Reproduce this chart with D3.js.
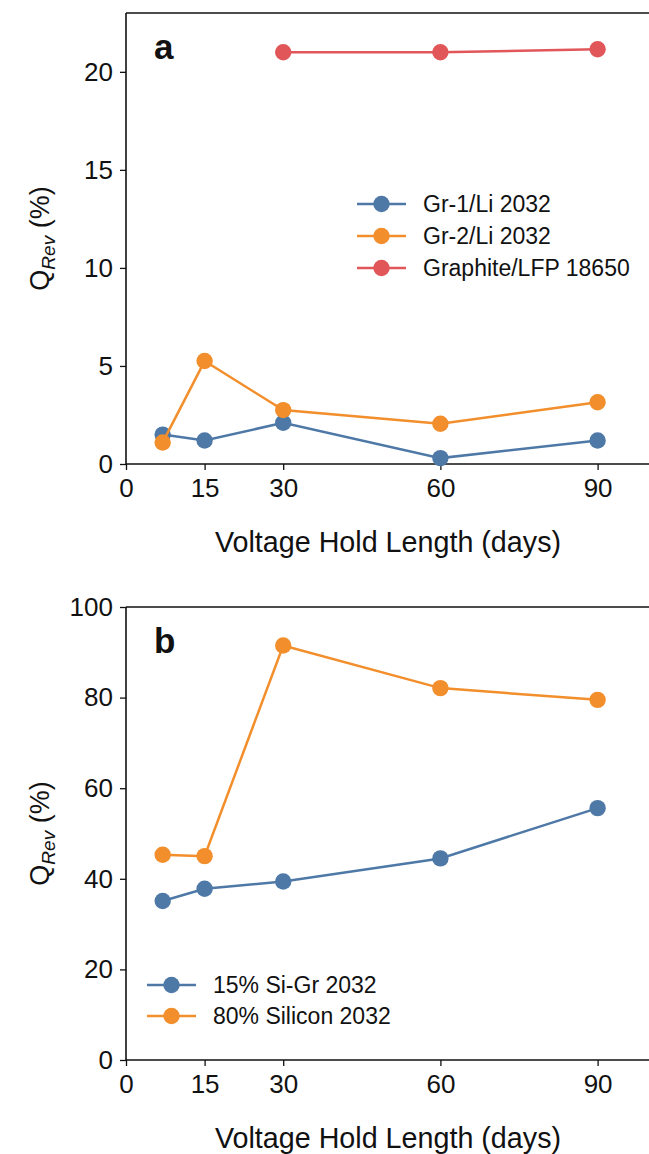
<!DOCTYPE html>
<html><head><meta charset="utf-8">
<script src="https://cdn.jsdelivr.net/npm/d3@7"></script>
<style>
html,body{margin:0;padding:0;background:#fff;}
text{font-family:"Liberation Sans",Arial,sans-serif;fill:#111;}
</style></head>
<body>
<svg id="chart" width="649" height="1154"></svg>
<script>
// ---- data ----
const xTicks = [0, 15, 30, 60, 90];
const daysA = [7, 15, 30, 60, 90];
const gr1Li = [1.5, 1.2, 2.1, 0.3, 1.2];
const gr2Li = [1.1, 5.25, 2.75, 2.05, 3.15];
const daysLFP = [30, 60, 90];
const grLFP = [21.0, 21.0, 21.15];
const yTicksA = [0, 5, 10, 15, 20];

const daysB = [7, 15, 30, 60, 90];
const siGr15 = [35.1, 37.8, 39.4, 44.5, 55.6];
const si80 = [45.3, 45.0, 91.5, 82.1, 79.5];
const yTicksB = [0, 20, 40, 60, 80, 100];

const namesA = ["Gr-1/Li 2032", "Gr-2/Li 2032", "Graphite/LFP 18650"];
const namesB = ["15% Si-Gr 2032", "80% Silicon 2032"];
const colors = ["#4e79a7", "#f28e2b", "#e15759"];

const svg = d3.select("#chart");

function panel(opts) {
  const {top, bottom, yMax, yTicks, series, letter, legend} = opts;
  const x = d3.scaleLinear().domain([0, 100]).range([126, 650]);
  const y = d3.scaleLinear().domain([0, yMax]).range([bottom, top]);
  const g = svg.append("g");

  g.append("line").attr("x1", 126).attr("x2", 650).attr("y1", top).attr("y2", top)
    .attr("stroke", "#111").attr("stroke-width", 1.3);
  g.append("line").attr("x1", 650).attr("x2", 650).attr("y1", top).attr("y2", bottom)
    .attr("stroke", "#111").attr("stroke-width", 1.3);

  const xa = g.append("g").attr("transform", `translate(0,${bottom})`)
    .call(d3.axisBottom(x).tickValues(xTicks).tickSize(6).tickPadding(9).tickFormat(d3.format("d")));
  const ya = g.append("g").attr("transform", `translate(126,0)`)
    .call(d3.axisLeft(y).tickValues(yTicks).tickSize(6).tickPadding(7).tickFormat(d3.format("d")));
  [xa, ya].forEach(a => {
    a.select(".domain").attr("stroke", "#111").attr("stroke-width", 1.6);
    a.selectAll(".tick line").attr("stroke", "#111").attr("stroke-width", 1.3);
    a.selectAll("text").style("font-family", '"Liberation Sans",Arial,sans-serif')
      .style("font-size", "26px").attr("fill", "#111");
  });
  xa.select(".domain").attr("d", `M126,0H650`);
  ya.select(".domain").attr("d", `M0,${top}V${bottom}`);

  const line = d3.line().x(d => x(d[0])).y(d => y(d[1]));
  series.forEach((s, i) => {
    const pts = s.xs.map((d, j) => [d, s.ys[j]]);
    g.append("path").attr("d", line(pts)).attr("fill", "none")
      .attr("stroke", s.color).attr("stroke-width", 2.5);
    g.selectAll(null).data(pts).enter().append("circle")
      .attr("cx", d => x(d[0])).attr("cy", d => y(d[1])).attr("r", 8.2)
      .attr("fill", s.color);
  });

  series.forEach((s, i) => {
    const ly = legend.y + i * legend.dy;
    g.append("line").attr("x1", legend.x).attr("x2", legend.x + 49)
      .attr("y1", ly).attr("y2", ly).attr("stroke", s.color).attr("stroke-width", 2.5);
    g.append("circle").attr("cx", legend.x + 24.5).attr("cy", ly).attr("r", 8.2).attr("fill", s.color);
    g.append("text").attr("x", legend.x + 66).attr("y", ly).attr("dy", "0.36em")
      .style("font-size", "23px").text(s.name);
  });

  g.append("text").attr("x", 154).attr("y", top + 46).style("font-size", "35px")
    .style("font-weight", "bold").text(letter);

  const yl = g.append("text")
    .attr("transform", `translate(49,${(top + bottom) / 2}) rotate(-90)`)
    .attr("text-anchor", "middle").style("font-size", "27px");
  yl.append("tspan").text("Q");
  yl.append("tspan").attr("dy", 6).style("font-size", "19px").style("font-style", "italic").text("Rev");
  yl.append("tspan").attr("dy", -6).text(" (%)");

  g.append("text").attr("x", 388).attr("y", bottom + 88).attr("text-anchor", "middle")
    .style("font-size", "28.7px").text("Voltage Hold Length (days)");
}

panel({
  top: 13, bottom: 464, yMax: 23, yTicks: yTicksA, letter: "a",
  legend: {x: 357, y: 204, dy: 32},
  series: [
    {name: namesA[0], xs: daysA, ys: gr1Li, color: colors[0]},
    {name: namesA[1], xs: daysA, ys: gr2Li, color: colors[1]},
    {name: namesA[2], xs: daysLFP, ys: grLFP, color: colors[2]}
  ]
});

panel({
  top: 607, bottom: 1060, yMax: 100, yTicks: yTicksB, letter: "b",
  legend: {x: 147, y: 985, dy: 31},
  series: [
    {name: namesB[0], xs: daysB, ys: siGr15, color: colors[0]},
    {name: namesB[1], xs: daysB, ys: si80, color: colors[1]}
  ]
});
</script>
</body></html>
